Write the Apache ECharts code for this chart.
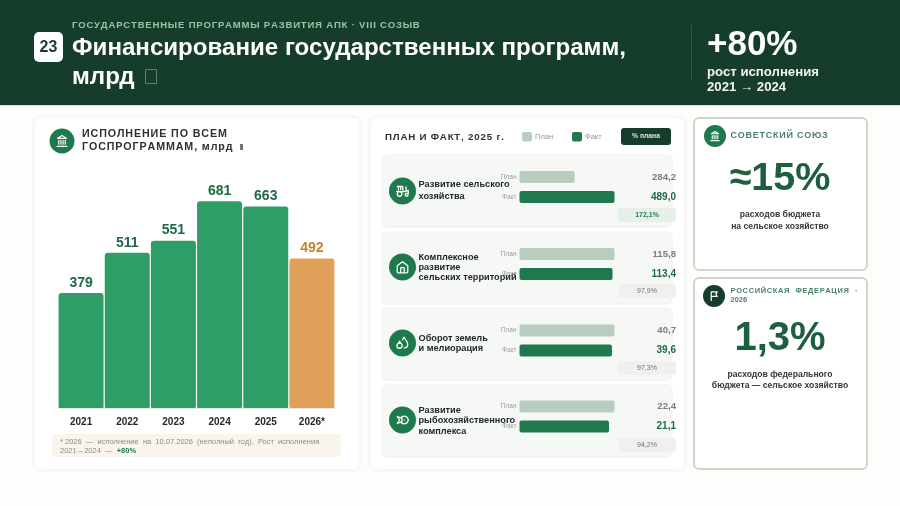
<!DOCTYPE html>
<html><head><meta charset="utf-8">
<script src="https://cdn.jsdelivr.net/npm/echarts@6/dist/echarts.min.js"></script>
<style>html,body{margin:0;padding:0;background:#fdfdfc}#c{width:900px;height:506px}</style>
</head><body><div id="c"></div>
<script>
const years = ['2021','2022','2023','2024','2025','2026*'];
const execution = [379,511,551,681,663,492];
const programLabels = [['Развитие сельского','хозяйства'],['Комплексное','развитие','сельских территорий'],['Оборот земель','и мелиорация'],['Развитие','рыбохозяйственного','комплекса']];
const planValues = [284.2,115.8,40.7,22.4];
const factValues = [489.0,113.4,39.6,21.1];
const percentLabels = ['172,1%','97,9%','97,3%','94,2%'];
const barKinds = ['План','Факт'];

const FONT='"Liberation Sans",Arial,sans-serif';
const DARK='#163d2a',GREEN='#1e7a4c',BAR='#2e9e66',ORANGE='#e0a05a',PLAN='#b9cdbf';
const sp=(s,n=1)=>Array.from(s).join('\u200a'.repeat(n));
const num=v=>v.toFixed(1).replace('.',',');
const g=[];
const rect=(x,y,w,h,r,fill,extra={})=>g.push(Object.assign({type:'rect',shape:{x,y,width:w,height:h,r},style:{fill},silent:true},extra));
const text=(x,y,t,size,fill,weight='normal',align='left',extra={})=>g.push({type:'text',x,y,z:20,silent:true,style:Object.assign({text:t,fontFamily:FONT,fontSize:size,fontWeight:weight,fill,align,verticalAlign:'middle'},extra)});
let iconId=0;
const icon=(cx,cy,d,s,sw=1.4)=>{const name='ic'+(iconId++);echarts.graphic.registerShape(name,echarts.graphic.extendPath(d,{}));const k=s/24;
 g.push({type:name,z:15,silent:true,x:cx-s/2,y:cy-s/2,scaleX:k,scaleY:k,style:{fill:null,stroke:'#fff',lineWidth:sw/k,lineCap:'round',lineJoin:'round'}});};
const circ=(cx,cy,r,fill)=>g.push({type:'circle',z:14,silent:true,shape:{cx,cy,r},style:{fill}});

// header
rect(0,0,900,105,0,DARK);
rect(0,105,900,1,0,'#dfe5df');
rect(34,32,29,30,5,'#fff');
text(48.5,47.5,'23',16,DARK,'bold','center');
text(72,25.5,sp('ГОСУДАРСТВЕННЫЕ ПРОГРАММЫ РАЗВИТИЯ АПК · VIII СОЗЫВ'),9.55,'#9cc3a8','bold');
text(72,48,'Финансирование государственных программ,',24.1,'#fff','bold');
text(72,77,'млрд',24.1,'#fff','bold');
rect(145.5,69.5,11,14,0,'transparent',{style:{fill:'transparent',stroke:'#5f7f6d',lineWidth:1}});
rect(691,25,1,55,0,'#2f5a43');
text(707,45,'+80%',35,'#fff','bold');
text(707,72,'рост исполнения',13.2,'#f0f4f0','bold');
text(707,87.5,'2021 → 2024',13.2,'#f0f4f0','bold');

// cards
const shadow={shadowBlur:5,shadowColor:'rgba(0,0,0,0.04)'};
rect(34,117,326,353,6,'#fff',{style:Object.assign({fill:'#fff',stroke:'#f2f4f1',lineWidth:1},shadow)});
rect(370,117,315,353,6,'#fff',{style:Object.assign({fill:'#fff',stroke:'#f2f4f1',lineWidth:1},shadow)});
rect(694,118,173,152,5,'#fff',{style:{fill:'#fff',stroke:'#d0d6ca',lineWidth:2}});
rect(694,278,173,191,5,'#fff',{style:{fill:'#fff',stroke:'#d0d6ca',lineWidth:2}});

// left card
const BANK='M3 22h18M6 18v-7M10 18v-7M14 18v-7M18 18v-7M12 2l8 5H4z';
circ(62,141,12.5,GREEN); icon(62,141,BANK,13,1.2);
text(82,134,sp('ИСПОЛНЕНИЕ ПО ВСЕМ'),10.7,'#2b332e','bold');
text(82,147,sp('ГОСПРОГРАММАМ, млрд'),10.7,'#2b332e','bold');
rect(240,144,3,6,0,'#6f7a72');
rect(52,434,289,23,3,'#faf5ec');
text(60,442,'* 2026  —  исполнение  на  10.07.2026  (неполный  год).  Рост  исполнения',7.5,'#8d8d86');
g.push({type:'text',x:60,y:451,z:20,silent:true,style:{text:'2021→2024  —  {g|+80%}',fontFamily:FONT,fontSize:7.5,fill:'#8d8d86',verticalAlign:'middle',rich:{g:{fontFamily:FONT,fontSize:7.5,fontWeight:'bold',fill:GREEN}}}});

// middle card
text(385,137,sp('ПЛАН И ФАКТ, 2025 г.'),9.7,'#2b332e','bold');
rect(522,132,10,9.5,2,PLAN); text(535,137,'План',7.5,'#8f9a92');
rect(572,132,10,9.5,2,GREEN); text(585,137,'Факт',7.5,'#8f9a92');
rect(621,128,50,17,3,DARK); text(646,136.5,'% плана',6.8,'#d8e6dc','bold','center');

const rowTops=[155,232,308,385], rowH=[72,72,72,72];
const iconCy=[191,267,343,420];
const labelY=[[184.5,196],[257,267,277],[338,348.5],[410,420.5,431]];
const gridTops=[167,244,320.5,396.5];
const badgeY=[208,284,361,438];
const paths=[
 'M3 4h9l1 7M5 11V4M9 10V4M18 5v7M2 13h14l6-2v5H20M7 21a4 4 0 1 0 0-8 4 4 0 0 0 0 8zM19 21a2.5 2.5 0 1 0 0-5 2.5 2.5 0 0 0 0 5z',
 'M3 10l9-7 9 7v10a2 2 0 0 1-2 2H5a2 2 0 0 1-2-2zM9 22v-8a1 1 0 0 1 1-1h4a1 1 0 0 1 1 1v8',
 'M7 21c2.5 0 4.5-2 4.5-4.5 0-1.3-.7-2.5-1.9-3.5S7.400 10.800 7 9c-.4 1.800-1.400 3-2.600 4S2.500 15.200 2.500 16.500C2.500 19 4.500 21 7 21zM12 6.500c.7-1 1.700-2.400 2.500-4.500 1 3.500 6.500 6.500 6.500 12a6.500 6.500 0 0 1-6 6.500',
 'M3 6l4 6-4 6 6-2.500c2 2 4 3 6 3 3 0 6-3 7-6.500-1-3.500-4-6.500-7-6.500-2 0-4 1-6 3zM11 6v12M15 12h.01'
];
const grids=[],xAxes=[],yAxes=[],series=[];
// column chart
grids.push({left:58,width:277,top:165,height:243});
xAxes.push({type:'category',gridIndex:0,data:years,axisLine:{show:true,lineStyle:{color:'#e7ebe7',width:1}},axisTick:{show:false},axisLabel:{margin:9,fontFamily:FONT,fontSize:10,fontWeight:'bold',color:'#252a27'}});
yAxes.push({type:'value',gridIndex:0,min:0,max:800,show:false});
series.push({type:'bar',xAxisIndex:0,yAxisIndex:0,barWidth:45,silent:true,z:3,
 data:execution.map((v,i)=>({value:v,itemStyle:{color:i===5?ORANGE:BAR,borderRadius:[3,3,1,1]},label:{color:i===5?'#bf8433':'#1f6a45'}})),
 label:{show:true,position:'top',distance:3,fontFamily:FONT,fontSize:14,fontWeight:'bold',formatter:p=>p.value}});

planValues.forEach((p,i)=>{
 const f=factValues[i],idx=i+1;
 rect(382,rowTops[i],290,rowH[i],5,'#f6f8f6',{style:{fill:'#f6f8f6',stroke:'#eff1ee',lineWidth:1}});
 circ(402.5,iconCy[i],13.5,GREEN); icon(402.5,iconCy[i],paths[i],14,1.3);
 programLabels[i].forEach((l,j)=>text(418.5,labelY[i][j],l,9.2,'#23282a','bold'));
 text(676,gridTops[i]+10,num(p),9.6,'#7b7f7c','bold','right');
 text(676,gridTops[i]+30,num(f),10,'#1f6a45','bold','right');
 const hi=i===0;
 rect(618,badgeY[i],58,14,3,hi?'#e6f0ea':'#f0f1ef');
 text(647,badgeY[i]+7,percentLabels[i],7,hi?'#2a7a50':'#6d716e',hi?'bold':'normal','center');
 grids.push({left:519.5,width:95,top:gridTops[i],height:40});
 xAxes.push({type:'value',gridIndex:idx,min:0,max:Math.max(p,f),show:false});
 yAxes.push({type:'category',gridIndex:idx,inverse:true,data:barKinds,axisLine:{show:false},axisTick:{show:false},axisLabel:{margin:3,fontFamily:FONT,fontSize:6.5,color:'#9a9f9b'}});
 series.push({type:'bar',xAxisIndex:idx,yAxisIndex:idx,barWidth:12,silent:true,z:3,
  data:[{value:p,itemStyle:{color:PLAN,borderRadius:2}},{value:f,itemStyle:{color:GREEN,borderRadius:2}}]});
});

// right cards
circ(715,136,11,GREEN); icon(715,136,BANK,11,1.1);
text(730.5,136,sp('СОВЕТСКИЙ СОЮЗ'),9,'#4a8265','bold');
text(780,179,'≈15%',39.5,'#1e5f3e','bold','center');
text(780,215,'расходов бюджета',8.6,'#333835','bold','center');
text(780,227,'на сельское хозяйство',8.6,'#333835','bold','center');
circ(714,296,11,DARK); icon(714,296,'M6 22V3h13l-3 5 3 5H6',11,1.2);
text(730.5,291,sp('РОССИЙСКАЯ  ФЕДЕРАЦИЯ  ·'),7.5,'#4a8265','bold');
text(730.5,300,'2026',7.5,'#4a8265','bold');
text(780,339,'1,3%',40,'#1e5f3e','bold','center');
text(780,375,'расходов федерального',8.6,'#333835','bold','center');
text(780,385.5,'бюджета — сельское хозяйство',8.6,'#333835','bold','center');

const chart=echarts.init(document.getElementById('c'),null,{renderer:'canvas'});
chart.setOption({animation:false,backgroundColor:'#fdfdfc',tooltip:{show:false},grid:grids,xAxis:xAxes,yAxis:yAxes,series,graphic:{elements:g}});
</script></body></html>
